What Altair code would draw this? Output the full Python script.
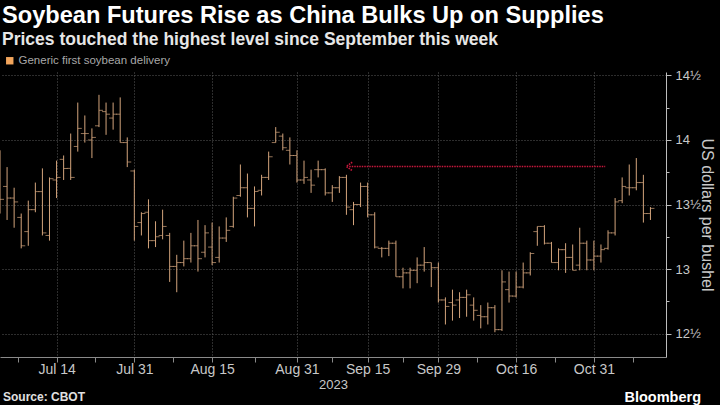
import altair as alt
import pandas as pd

# ---------------- data ----------------
dates = [
    "2023-07-03", "2023-07-05", "2023-07-06", "2023-07-07", "2023-07-10", "2023-07-11", "2023-07-12",
    "2023-07-13", "2023-07-14", "2023-07-17", "2023-07-18", "2023-07-19", "2023-07-20", "2023-07-21",
    "2023-07-24", "2023-07-25", "2023-07-26", "2023-07-27", "2023-07-28", "2023-07-31",
    "2023-08-01", "2023-08-02", "2023-08-03", "2023-08-04", "2023-08-07", "2023-08-08", "2023-08-09",
    "2023-08-10", "2023-08-11", "2023-08-14", "2023-08-15", "2023-08-16", "2023-08-17", "2023-08-18",
    "2023-08-21", "2023-08-22", "2023-08-23", "2023-08-24", "2023-08-25", "2023-08-28", "2023-08-29",
    "2023-08-30", "2023-08-31",
    "2023-09-01", "2023-09-05", "2023-09-06", "2023-09-07", "2023-09-08", "2023-09-11", "2023-09-12",
    "2023-09-13", "2023-09-14", "2023-09-15", "2023-09-18", "2023-09-19", "2023-09-20", "2023-09-21",
    "2023-09-22", "2023-09-25", "2023-09-26", "2023-09-27", "2023-09-28", "2023-09-29",
    "2023-10-02", "2023-10-03", "2023-10-04", "2023-10-05", "2023-10-06", "2023-10-09", "2023-10-10",
    "2023-10-11", "2023-10-12", "2023-10-13", "2023-10-16", "2023-10-17", "2023-10-18", "2023-10-19",
    "2023-10-20", "2023-10-23", "2023-10-24", "2023-10-25", "2023-10-26", "2023-10-27", "2023-10-30",
    "2023-10-31",
    "2023-11-01", "2023-11-02", "2023-11-03", "2023-11-06", "2023-11-07", "2023-11-08", "2023-11-09",
    "2023-11-10",
]

opens = [13.65, 13.64, 13.55, 13.40, 13.29, 13.46, 13.60, 13.26, 13.69, 13.85,
         13.78, 13.95, 14.05, 14.00, 14.11, 14.22, 14.17, 14.20, 13.98, 13.76,
         13.36, 13.44, 13.22, 13.26, 13.26, 13.02, 13.05, 13.08, 13.18, 13.13,
         13.17, 13.09, 13.24, 13.33, 13.57, 13.63, 13.47, 13.61, 13.71, 13.98,
         14.03, 13.92, 13.88, 13.69, 13.69, 13.77, 13.77, 13.59, 13.63, 13.71,
         13.46, 13.50, 13.64, 13.42, 13.16, 13.16, 13.20, 12.94, 12.97, 12.99,
         13.03, 13.05, 13.01, 12.76, 12.74, 12.76, 12.78, 12.72, 12.64, 12.63,
         12.70, 12.53, 12.84, 12.79, 12.86, 12.97, 13.29, 13.33, 13.20, 13.05,
         13.15, 13.09, 13.03, 13.20, 13.07, 13.10, 13.16, 13.28, 13.53, 13.63,
         13.63, 13.67, 13.43]

highs = [13.92, 13.79, 13.63, 13.43, 13.53, 13.67, 13.78, 13.71, 13.84, 13.88,
         14.05, 14.29, 14.19, 14.09, 14.35, 14.29, 14.29, 14.33, 14.02, 13.77,
         13.44, 13.54, 13.37, 13.46, 13.28, 13.11, 13.22, 13.28, 13.38, 13.34,
         13.36, 13.33, 13.40, 13.56, 13.81, 13.74, 13.64, 13.73, 13.91, 14.10,
         14.05, 14.02, 13.92, 13.84, 13.77, 13.84, 13.78, 13.65, 13.72, 13.73,
         13.52, 13.67, 13.67, 13.44, 13.17, 13.22, 13.22, 13.01, 13.01, 13.09,
         13.17, 13.05, 13.05, 12.78, 12.84, 12.82, 12.84, 12.78, 12.72, 12.74,
         12.72, 12.99, 12.98, 12.98, 13.05, 13.13, 13.33, 13.34, 13.21, 13.16,
         13.20, 13.19, 13.32, 13.22, 13.22, 13.19, 13.30, 13.55, 13.71, 13.81,
         13.86, 13.73, 13.48]

lows = [13.43, 13.38, 13.32, 13.16, 13.18, 13.44, 13.26, 13.22, 13.55, 13.69,
        13.69, 13.91, 13.98, 13.86, 14.10, 14.04, 14.08, 13.98, 13.79, 13.22,
        13.26, 13.16, 13.17, 13.23, 12.90, 12.82, 13.02, 13.05, 12.98, 13.09,
        13.03, 13.05, 13.21, 13.32, 13.56, 13.40, 13.33, 13.57, 13.69, 13.98,
        13.92, 13.81, 13.67, 13.66, 13.59, 13.71, 13.57, 13.52, 13.59, 13.42,
        13.34, 13.48, 13.40, 13.16, 13.09, 13.10, 12.94, 12.85, 12.85, 12.89,
        12.98, 12.86, 12.74, 12.57, 12.60, 12.62, 12.63, 12.60, 12.54, 12.57,
        12.51, 12.52, 12.74, 12.78, 12.85, 12.95, 13.18, 13.19, 13.05, 12.99,
        12.97, 12.99, 12.99, 12.99, 12.99, 13.05, 13.15, 13.26, 13.51, 13.57,
        13.61, 13.36, 13.38]

closes = [13.54, 13.55, 13.52, 13.18, 13.46, 13.60, 13.28, 13.70, 13.71, 13.78,
          13.71, 14.09, 14.05, 14.02, 14.23, 14.20, 14.20, 13.98, 13.83, 13.33,
          13.43, 13.22, 13.25, 13.33, 13.02, 13.05, 13.08, 13.18, 13.08, 13.28,
          13.05, 13.24, 13.30, 13.55, 13.63, 13.47, 13.60, 13.71, 13.87, 14.06,
          13.94, 13.88, 13.69, 13.71, 13.65, 13.77, 13.59, 13.63, 13.71, 13.48,
          13.50, 13.64, 13.42, 13.17, 13.16, 13.20, 12.94, 12.97, 12.99, 13.03,
          13.05, 13.01, 12.76, 12.71, 12.72, 12.78, 12.80, 12.68, 12.63, 12.70,
          12.53, 12.90, 12.79, 12.86, 12.97, 13.12, 13.33, 13.20, 13.05, 13.15,
          13.09, 12.99, 13.20, 13.07, 13.10, 13.15, 13.28, 13.52, 13.64, 13.63,
          13.67, 13.43, 13.47]

tick_dates = ["2023-07-14", "2023-07-31", "2023-08-15", "2023-08-31",
              "2023-09-15", "2023-09-29", "2023-10-16", "2023-10-31"]
tick_labels = ["Jul 14", "Jul 31", "Aug 15", "Aug 31", "Sep 15", "Sep 29", "Oct 16", "Oct 31"]

y_ticks = [12.5, 12.75, 13.0, 13.25, 13.5, 13.75, 14.0, 14.25, 14.5]

series_name = "Generic first soybean delivery"
arrow_level = 13.795          # price level marked by the red arrow
arrow_from_date = "2023-11-02"  # arrow tail (right end)
arrow_to_date = "2023-09-12"    # arrow head (left end)

TITLE = "Soybean Futures Rise as China Bulks Up on Supplies"
SUBTITLE = "Prices touched the highest level since September this week"
SOURCE = "Source: CBOT"
BRAND = "Bloomberg"

# ---------------- build ----------------
df = pd.DataFrame({"date": dates, "open": opens, "high": highs, "low": lows, "close": closes})
df["i"] = range(len(df))

idx = {d: k for k, d in enumerate(dates)}
major = [idx[d] for d in tick_dates]
minor = [(a + b) / 2 for a, b in zip(major[:-1], major[1:])]
minor = [major[0] - (major[1] - major[0]) / 2] + minor + [major[-1] + (major[-1] - major[-2]) / 2]

label_expr = "".join(f"datum.value == {m} ? '{l}' : " for m, l in zip(major, tick_labels)) + "''"
major_test = " || ".join(f"datum.value == {m}" for m in major)

W, H = 666, 285
FONT = "Liberation Sans"
BAR = "#d3a47c"
GRID = "#5a5a5a"
AXC = "#c8c8c8"

x_scale = alt.Scale(domain=[0, 94.2], nice=False, zero=False)
y_scale = alt.Scale(domain=[12.318, 14.527], nice=False, zero=False)

x_axis = alt.Axis(
    values=sorted(major + minor), labelExpr=label_expr, title="2023",
    titleFont=FONT, titleFontSize=13, titleFontWeight="normal", titleColor=AXC, titlePadding=2,
    labelFont=FONT, labelFontSize=14, labelColor=AXC, labelPadding=0, labelFlush=False,
    labelOverlap=False, tickSize=5, tickColor="#8a8a8a", domainColor="#8a8a8a",
    grid=True, gridDash=[1, 2], gridColor=GRID,
    gridOpacity={"condition": {"test": major_test, "value": 1}, "value": 0},
)
y_axis = alt.Axis(
    orient="right", values=y_ticks,
    labelExpr="datum.value % 0.5 != 0 ? '' : (datum.value % 1 == 0 ? format(datum.value, 'd') : floor(datum.value) + '½')",
    title="US dollars per bushel", titleFont=FONT, titleFontSize=16, titleFontWeight="normal",
    titleColor=AXC, titlePadding=-2,
    labelFont=FONT, labelFontSize=13, labelColor=AXC, labelPadding=4,
    tickColor="#bdbdbd", domainColor="#bdbdbd",
    tickSize={"condition": {"test": "datum.value % 0.5 == 0", "value": 5}, "value": 3},
    grid=True, gridDash=[1, 2], gridColor=GRID,
    gridOpacity={"condition": {"test": "datum.value % 0.5 == 0", "value": 1}, "value": 0},
)


def X(field):
    return alt.X(field, type="quantitative", scale=x_scale, axis=x_axis)


def Y(field):
    return alt.Y(field, type="quantitative", scale=y_scale, axis=y_axis)


base = alt.Chart(df)
hl = base.mark_rule(color=BAR, strokeWidth=1, clip=True).encode(
    x=X("i"), y=Y("low"), y2="high")
op = base.mark_tick(orient="horizontal", size=4, thickness=1, xOffset=-2, color=BAR, clip=True).encode(
    x=X("i"), y=Y("open"))
cl = base.mark_tick(orient="horizontal", size=4, thickness=1, xOffset=2, color=BAR, clip=True).encode(
    x=X("i"), y=Y("close"))

arrow_df = pd.DataFrame({"x1": [idx[arrow_to_date] + 0.4], "x2": [idx[arrow_from_date] - 0.4],
                         "level": [arrow_level]})
RED = "#c8173c"
arrow_line = alt.Chart(arrow_df).mark_rule(color=RED, strokeWidth=1.6, strokeDash=[1.5, 1]).encode(
    x=X("x1"), x2="x2", y=Y("level"))
arrow_head = alt.Chart(arrow_df).mark_point(
    shape="M0.7,-1L-0.7,0L0.7,1", filled=False, color=RED, strokeWidth=1.6, size=70,
    strokeDash=[1.5, 1], opacity=1).encode(x=X("x1"), y=Y("level"))

leg_df = pd.DataFrame({"series": [series_name], "i": [-50.0], "p": [13.0]})
legend_pt = alt.Chart(leg_df).mark_square(clip=True, opacity=1).encode(
    x=X("i"), y=Y("p"),
    color=alt.Color("series:N", scale=alt.Scale(range=["#f2a55c"]),
                    legend=alt.Legend(orient="none", legendX=4, legendY=-17, title=None,
                                      symbolType="square", symbolSize=55, symbolStrokeWidth=0,
                                      labelFont=FONT, labelFontSize=11.5, labelColor="#a8a8a8",
                                      labelOffset=3, padding=0)))


def text_layer(txt, x, y, size, weight, color, align="left"):
    return alt.Chart(pd.DataFrame({"t": [txt]})).mark_text(
        align=align, baseline="alphabetic", font=FONT, fontSize=size, fontWeight=weight, color=color
    ).encode(text="t:N", x=alt.value(x), y=alt.value(y))


title = text_layer(TITLE, 2, -49, 23.6, "bold", "#ffffff")
subtitle = text_layer(SUBTITLE, 2, -27, 17.5, "bold", "#e6e6e6")
source = text_layer(SOURCE, 3, 329, 12, "bold", "#e0e0e0")
brand = text_layer(BRAND, 701, 330, 14.5, "bold", "#ffffff", align="right")

chart = alt.layer(hl, op, cl, arrow_line, arrow_head, legend_pt, title, subtitle, source, brand).properties(
    width=W, height=H,
    autosize=alt.AutoSizeParams(type="none"),
    padding={"left": 0, "top": 72, "right": 54, "bottom": 48},
    background="#000000",
).configure_view(stroke=None, fill="#000000")

chart.save("out.html", embed_options={"renderer": "svg", "actions": False})
